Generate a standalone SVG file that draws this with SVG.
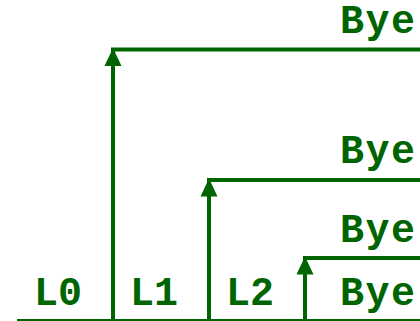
<svg xmlns="http://www.w3.org/2000/svg" width="420" height="321" viewBox="0 0 420 321">
  <style>
    .lbl { font-family: "Liberation Mono", "Courier New", monospace; font-weight: bold; font-size: 40px; fill: #006400; }
    .bye { letter-spacing: 1.5px; }
    .wire { fill: none; stroke: #006400; stroke-width: 4; }
    .base { fill: none; stroke: #006400; stroke-width: 2; }
    .head { fill: #006400; }
  </style>
  <defs>
    <!-- upward arrowhead, tip at the origin -->
    <path id="up" class="head" d="M0 0 L8.5 18 L-8.5 18 Z"/>
  </defs>

  <!-- ground line -->
  <line class="base" x1="17" y1="320" x2="420" y2="320"/>

  <g id="connectors">
    <path class="wire" d="M113 320 V49.5 H420"/>
    <path class="wire" d="M209 320 V180 H420"/>
    <path class="wire" d="M305 320 V258 H420"/>
    <use href="#up" x="113" y="48"/>
    <use href="#up" x="209" y="178.5"/>
    <use href="#up" x="305" y="256.5"/>
  </g>

  <g id="level0"><text class="lbl" x="34" y="305">L0</text></g>
  <g id="level1"><text class="lbl" x="130" y="305">L1</text></g>
  <g id="level2"><text class="lbl" x="226" y="305">L2</text></g>

  <g id="bye0"><text class="lbl bye" x="340" y="33">Bye</text></g>
  <g id="bye1"><text class="lbl bye" x="340" y="163">Bye</text></g>
  <g id="bye2"><text class="lbl bye" x="340" y="242">Bye</text></g>
  <g id="bye3"><text class="lbl bye" x="340" y="305">Bye</text></g>
</svg>
